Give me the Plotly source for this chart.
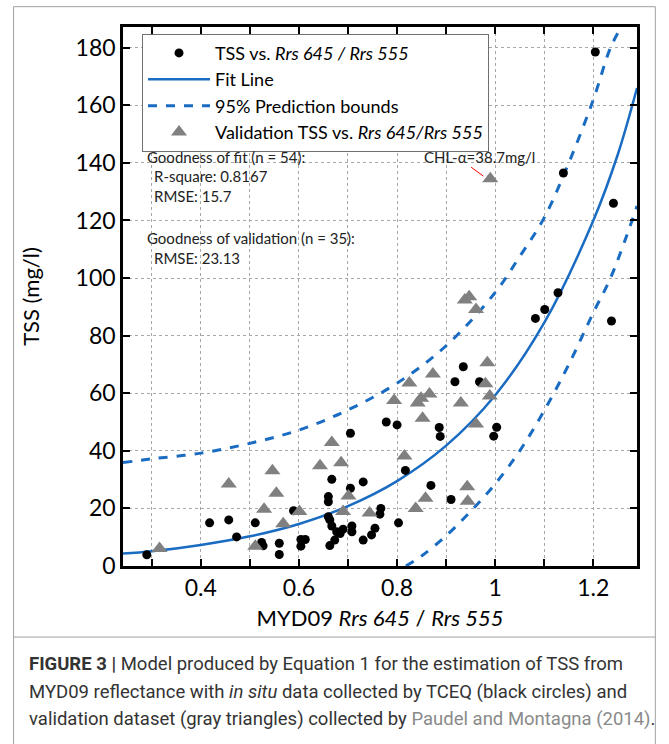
import plotly.graph_objects as go

# ---------------- data ----------------
tss_x = [0.290, 0.418, 0.457, 0.473, 0.511, 0.524, 0.527, 0.560, 0.560, 0.589,
         0.604, 0.604, 0.613, 0.667, 0.660, 0.660, 0.660, 0.663, 0.667, 0.677,
         0.684, 0.673, 0.663, 0.690, 0.705, 0.705, 0.731, 0.708, 0.708, 0.731,
         0.748, 0.755, 0.767, 0.765, 0.803, 0.778, 0.800, 0.817, 0.869, 0.886,
         0.888, 0.910, 0.918, 0.935, 0.968, 1.003, 0.997, 1.204, 1.139, 1.241,
         1.237, 1.128, 1.101, 1.082]
tss_y = [3.9, 15.0, 16.0, 10.1, 15.0, 8.2, 7.0, 7.9, 4.0, 19.2,
         9.2, 6.9, 9.2, 30.1, 24.1, 22.3, 17.1, 16.0, 13.9, 11.9,
         11.3, 9.0, 7.1, 12.8, 46.1, 27.0, 29.2, 13.9, 11.9, 9.0,
         10.8, 13.1, 20.0, 18.0, 15.0, 50.0, 49.0, 33.2, 28.0, 48.1,
         45.0, 23.1, 64.0, 69.2, 64.0, 48.2, 45.1, 178.5, 136.5, 126.0,
         85.1, 94.9, 89.1, 86.0]

val_x = [0.316, 0.457, 0.511, 0.529, 0.546, 0.554, 0.568, 0.601, 0.643, 0.667,
         0.686, 0.701, 0.690, 0.744, 0.794, 0.815, 0.838, 0.858, 0.825, 0.873,
         0.842, 0.849, 0.866, 0.852, 0.930, 0.961, 0.984, 0.980, 0.989, 0.943,
         0.944, 0.938, 0.947, 0.961, 0.990]
val_y = [6.1, 28.5, 6.9, 19.7, 33.1, 25.3, 14.7, 18.9, 34.8, 42.9,
         35.9, 24.3, 18.9, 18.4, 57.5, 38.2, 20.0, 23.5, 63.6, 66.7,
         56.6, 58.3, 59.7, 51.3, 56.6, 49.3, 70.6, 63.3, 59.0, 27.5,
         22.5, 92.4, 93.5, 89.1, 134.5]

fit_x = [0.2415, 0.3, 0.4, 0.5, 0.6, 0.7, 0.8, 0.9, 1.0, 1.1, 1.2, 1.25, 1.289]
fit_y = [4.3, 5.1, 7.3, 10.3, 14.6, 20.8, 29.5, 41.8, 59.3, 84.5, 120.0, 143.0, 166.0]

upper_x = [0.2415, 0.3, 0.4, 0.5, 0.6, 0.7, 0.8, 0.9, 1.0, 1.05, 1.1, 1.15, 1.2, 1.235, 1.257]
upper_y = [35.9, 37.2, 39.2, 42.6, 47.2, 54.2, 63.5, 76.5, 95.0, 107.5, 121.0, 140.0, 162.0, 180.0, 187.2]

lower_x = [0.818, 0.85, 0.9, 0.95, 1.0, 1.05, 1.1, 1.15, 1.2, 1.235, 1.279, 1.289]
lower_y = [0.0, 3.5, 10.5, 19.0, 28.5, 40.0, 54.0, 70.0, 88.0, 100.0, 120.0, 125.0]

x_tickvals = [0.3, 0.4, 0.5, 0.6, 0.7, 0.8, 0.9, 1.0, 1.1, 1.2]
x_ticktext = ["", "0.4", "", "0.6", "", "0.8", "", "1", "", "1.2"]
y_tickvals = [0, 20, 40, 60, 80, 100, 120, 140, 160, 180]

BLUE = "#1a6cc2"
FONT = "Lato"

fig = go.Figure()

fig.add_trace(go.Scatter(x=fit_x, y=fit_y, mode="lines", line=dict(color=BLUE, width=2.5, shape="spline"),
                         name="Fit Line", legendrank=2))
fig.add_trace(go.Scatter(x=upper_x, y=upper_y, mode="lines",
                         line=dict(color=BLUE, width=3, dash="dash", shape="spline"),
                         name="95% Prediction bounds", legendrank=3))
fig.add_trace(go.Scatter(x=lower_x, y=lower_y, mode="lines",
                         line=dict(color=BLUE, width=3, dash="dash", shape="spline"),
                         showlegend=False))
fig.add_trace(go.Scatter(x=tss_x, y=tss_y, mode="markers",
                         marker=dict(symbol="circle", size=9, color="black"),
                         name="TSS vs. <i>Rrs 645 / Rrs 555</i>", legendrank=1))
fig.add_trace(go.Scatter(x=val_x, y=val_y, mode="markers",
                         marker=dict(symbol="triangle-up", size=14, color="#808080"),
                         name="Validation TSS vs. <i>Rrs 645/Rrs 555</i>", legendrank=4))

axis_common = dict(showline=True, linecolor="black", linewidth=2.5, mirror="allticks",
                   ticks="inside", ticklen=7, tickwidth=2, tickcolor="black",
                   showgrid=True, gridcolor="#a8a8a8", gridwidth=1, griddash="dot",
                   zeroline=False, tickfont=dict(family=FONT, size=23, color="black"))

fig.update_xaxes(range=[0.2415, 1.289], tickmode="array", tickvals=x_tickvals, ticktext=x_ticktext,
                 title=dict(text="MYD09 <i>Rrs 645</i> / <i>Rrs 555</i>", font=dict(family=FONT, size=22, color="black"),
                            standoff=11),
                 **axis_common)
fig.update_yaxes(range=[0, 187.2], tickmode="array", tickvals=y_tickvals,
                 title=dict(text="TSS (mg/l)", font=dict(family=FONT, size=22, color="black"), standoff=30),
                 **axis_common)

ann_font = dict(family=FONT, size=15, color="#222")
anns = [
    dict(x=0.286, y=142, text="Goodness of fit (n = 54):"),
    dict(x=0.300, y=135.4, text="R-square: 0.8167"),
    dict(x=0.300, y=128.5, text="RMSE: 15.7"),
    dict(x=0.286, y=113.9, text="Goodness of validation (n = 35):"),
    dict(x=0.300, y=107.0, text="RMSE: 23.13"),
]
for a in anns:
    fig.add_annotation(x=a["x"], y=a["y"], xref="x", yref="y", text=a["text"], showarrow=False,
                       xanchor="left", yanchor="middle", font=ann_font)
fig.add_annotation(x=0.969, y=142, xref="x", yref="y", text="CHL-α=38.7mg/l", showarrow=False,
                   xanchor="center", yanchor="middle", font=ann_font)
fig.add_shape(type="line", xref="x", yref="y", x0=0.951, y0=138.5, x1=0.976, y1=135.4,
              line=dict(color="red", width=1))

# outer figure frame and caption separator (paper coordinates)
PW, PH = 513.4, 538.7
def px2x(p):
    return (p - 123.3) / PW
def py2y(p):
    return (566 - p) / PH

fig.add_shape(type="rect", xref="paper", yref="paper", x0=px2x(14), x1=px2x(655), y0=py2y(800), y1=py2y(7),
              line=dict(color="#a0a0a0", width=1), layer="below")
fig.add_shape(type="line", xref="paper", yref="paper", x0=px2x(14), x1=px2x(655), y0=py2y(637), y1=py2y(637),
              line=dict(color="#a0a0a0", width=1))

cap_font = dict(family="Roboto", size=18.5, color="#333")
caps = [
    (664, "<b>FIGURE 3 |</b> Model produced by Equation 1 for the estimation of TSS from"),
    (692, "MYD09 reflectance with <i>in situ</i> data collected by TCEQ (black circles) and"),
    (719, "validation dataset (gray triangles) collected by <span style='color:#8a8a8a'>Paudel and Montagna (2014)</span>."),
]
for yy, t in caps:
    fig.add_annotation(x=px2x(27), y=py2y(yy), xref="paper", yref="paper", text=t, showarrow=False,
                       xanchor="left", yanchor="middle", font=cap_font)

fig.update_layout(
    width=669, height=744,
    margin=dict(l=123.3, r=32.3, t=27.3, b=178),
    paper_bgcolor="white", plot_bgcolor="white",
    showlegend=True,
    legend=dict(x=0.037, y=py2y(34), xanchor="left", yanchor="top", bgcolor="white",
                bordercolor="#707070", borderwidth=1,
                font=dict(family=FONT, size=18, color="black"), itemwidth=62, tracegroupgap=0),
)

fig.write_html("out.html", config={"displayModeBar": False},
               post_script="document.body.style.margin='0';")
